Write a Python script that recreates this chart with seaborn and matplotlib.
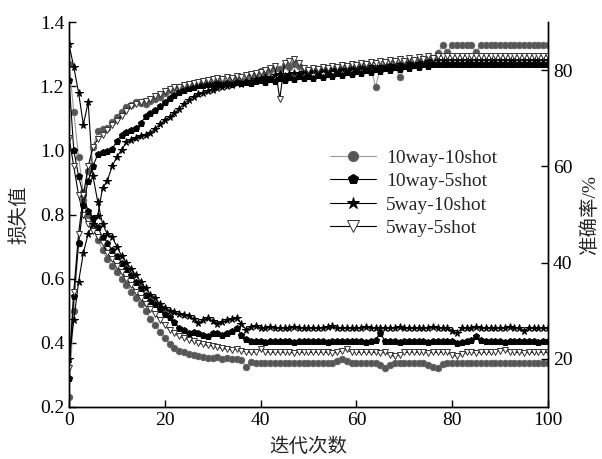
"""
Loss / accuracy curves for four few-shot settings (dual y axis).
Run: python plot.py  -> out.png
"""

import matplotlib

matplotlib.use("Agg")
import matplotlib.pyplot as plt
import numpy as np
import seaborn as sns

# ---- data ----------------------------------------------------------------
iters = np.arange(0, 101)
labels = ["10way-10shot", "10way-5shot", "5way-10shot", "5way-5shot"]

# loss (left axis)
loss_10w10s = [
    1.27, 1.12, 0.98, 0.87, 0.80, 0.76, 0.72, 0.69, 0.66, 0.64,
    0.62, 0.60, 0.58, 0.56, 0.54, 0.52, 0.50, 0.475, 0.455, 0.435,
    0.415, 0.395, 0.385, 0.375, 0.37, 0.366, 0.362, 0.358, 0.356, 0.353,
    0.352, 0.355, 0.35, 0.352, 0.349, 0.35, 0.345, 0.325, 0.34, 0.338,
    0.337, 0.338, 0.337, 0.336, 0.337, 0.338, 0.337, 0.337, 0.336, 0.337,
    0.337, 0.338, 0.337, 0.336, 0.337, 0.338, 0.342, 0.35, 0.342, 0.337,
    0.337, 0.336, 0.337, 0.338, 0.337, 0.33, 0.322, 0.332, 0.337, 0.338,
    0.337, 0.336, 0.337, 0.338, 0.337, 0.332, 0.325, 0.322, 0.335, 0.337,
    0.337, 0.338, 0.337, 0.336, 0.337, 0.338, 0.337, 0.337, 0.336, 0.337,
    0.337, 0.338, 0.337, 0.336, 0.337, 0.338, 0.337, 0.337, 0.336, 0.337,
    0.337,
]
loss_10w5s = [
    1.22, 1.00, 0.92, 0.86, 0.81, 0.79, 0.76, 0.73, 0.71, 0.69,
    0.67, 0.65, 0.63, 0.61, 0.59, 0.57, 0.55, 0.53, 0.52, 0.505,
    0.49, 0.48, 0.465, 0.447, 0.44, 0.43, 0.435, 0.43, 0.425, 0.42,
    0.43, 0.432, 0.425, 0.43, 0.438, 0.447, 0.425, 0.412, 0.406, 0.405,
    0.405, 0.404, 0.405, 0.405, 0.406, 0.405, 0.405, 0.404, 0.405, 0.405,
    0.405, 0.405, 0.406, 0.405, 0.404, 0.405, 0.405, 0.405, 0.406, 0.405,
    0.405, 0.405, 0.404, 0.405, 0.41, 0.43, 0.405, 0.405, 0.405, 0.404,
    0.405, 0.405, 0.406, 0.405, 0.405, 0.404, 0.405, 0.405, 0.405, 0.406,
    0.405, 0.398, 0.402, 0.405, 0.41, 0.42, 0.408, 0.405, 0.405, 0.405,
    0.405, 0.404, 0.405, 0.405, 0.406, 0.405, 0.405, 0.405, 0.404, 0.405,
    0.405,
]
loss_5w10s = [
    1.33, 1.26, 1.18, 1.08, 1.15, 0.92, 0.84, 0.77, 0.74, 0.73,
    0.70, 0.67, 0.65, 0.63, 0.61, 0.59, 0.57, 0.55, 0.54, 0.52,
    0.51, 0.50, 0.495, 0.49, 0.487, 0.484, 0.475, 0.462, 0.47, 0.478,
    0.468, 0.46, 0.465, 0.47, 0.473, 0.476, 0.46, 0.44, 0.45, 0.453,
    0.447, 0.447, 0.448, 0.447, 0.446, 0.447, 0.447, 0.448, 0.447, 0.447,
    0.447, 0.446, 0.447, 0.447, 0.448, 0.452, 0.447, 0.447, 0.446, 0.447,
    0.447, 0.447, 0.448, 0.447, 0.447, 0.446, 0.447, 0.447, 0.447, 0.448,
    0.447, 0.447, 0.446, 0.447, 0.447, 0.447, 0.448, 0.447, 0.447, 0.446,
    0.438, 0.43, 0.446, 0.447, 0.447, 0.448, 0.447, 0.447, 0.446, 0.447,
    0.447, 0.447, 0.448, 0.447, 0.446, 0.438, 0.446, 0.447, 0.447, 0.447,
    0.447,
]
loss_5w5s = [
    1.04, 0.95, 0.86, 0.80, 0.77, 0.75, 0.73, 0.71, 0.68, 0.66,
    0.64, 0.62, 0.60, 0.58, 0.56, 0.54, 0.52, 0.505, 0.49, 0.47,
    0.455, 0.44, 0.43, 0.42, 0.415, 0.41, 0.405, 0.40, 0.395, 0.392,
    0.39, 0.386, 0.383, 0.38, 0.378, 0.38, 0.376, 0.372, 0.37, 0.372,
    0.38, 0.372, 0.37, 0.37, 0.371, 0.37, 0.37, 0.369, 0.37, 0.37,
    0.37, 0.37, 0.371, 0.37, 0.37, 0.369, 0.37, 0.375, 0.38, 0.37,
    0.37, 0.37, 0.371, 0.37, 0.37, 0.369, 0.37, 0.362, 0.358, 0.362,
    0.37, 0.37, 0.371, 0.37, 0.37, 0.369, 0.37, 0.37, 0.37, 0.37,
    0.362, 0.358, 0.365, 0.37, 0.37, 0.369, 0.37, 0.37, 0.371, 0.372,
    0.376, 0.378, 0.372, 0.37, 0.37, 0.369, 0.37, 0.37, 0.371, 0.37,
    0.37,
]

# accuracy in % (right axis)
acc_10w10s = [
    12, 30, 44, 53, 59, 64, 67.3, 67.8, 68, 69.2,
    70.2, 71.2, 72.3, 72.8, 73.4, 73.2, 73.0, 73.6, 74.0, 74.4,
    75.2, 75.8, 76.2, 76.4, 76.5, 76.9, 77.1, 77.3, 77.5, 77.2,
    77.6, 77.3, 77.8, 77.4, 77.9, 78.2, 77.8, 78.0, 79.0, 79.3,
    79.8, 79.4, 80.0, 80.4, 80.2, 81.0, 80.6, 81.2, 80.8, 80.2,
    79.6, 80.3, 79.8, 80.4, 80.0, 80.6, 80.2, 80.8, 80.4, 81.0,
    80.6, 80.9, 81.3, 80.7, 76.5, 80.5, 81.1, 80.8, 81.5, 78.5,
    81.2, 81.6, 81.0, 81.8, 82.4, 81.6, 82.6, 83.5, 85.3, 83.8,
    85.3, 85.3, 85.3, 85.3, 85.3, 83.7, 85.3, 85.3, 85.3, 85.3,
    85.3, 85.3, 85.3, 85.3, 85.3, 85.3, 85.3, 85.3, 85.3, 85.3,
    85.3,
]
acc_10w5s = [
    16, 33, 44, 52, 57, 60, 62.5, 63.0, 63.3, 63.6,
    65.2, 66.6, 67.2, 67.6, 68.0, 69.0, 70.4, 71.0, 71.8, 72.5,
    73.4, 74.3, 74.9, 75.4, 75.8, 76.3, 76.6, 76.9, 77.0, 77.2,
    77.0, 77.3, 77.1, 77.4, 77.2, 77.5, 77.3, 77.6, 77.4, 77.8,
    78.0, 77.6, 78.2, 77.8, 78.4, 78.0, 78.6, 78.2, 78.7, 78.3,
    78.8, 78.4, 79.0, 78.6, 79.2, 78.8, 79.4, 79.0, 79.6, 79.2,
    79.8, 79.4, 80.0, 79.6, 80.2, 79.8, 80.4, 80.0, 80.6, 80.2,
    80.8, 80.4, 81.0, 80.6, 81.2, 80.8, 81.2, 81.3, 81.3, 81.3,
    81.3, 81.3, 81.3, 81.3, 81.3, 81.3, 81.3, 81.3, 81.3, 81.3,
    81.3, 81.3, 81.3, 81.3, 81.3, 81.3, 81.3, 81.3, 81.3, 81.3,
    81.3,
]
acc_5w10s = [
    20, 28, 36, 42, 46, 48, 49.7, 55.5, 57.0, 60.0,
    62.0, 63.5, 65.0, 65.5, 66.0, 66.3, 66.6, 67.0, 67.8, 68.8,
    69.6, 70.3, 71.0, 72.0, 73.0, 73.8, 74.5, 75.0, 75.3, 75.6,
    75.9, 76.2, 76.5, 76.8, 77.0, 77.3, 77.1, 77.5, 77.8, 78.1,
    78.3, 78.6, 78.4, 78.9, 79.1, 78.8, 79.3, 79.5, 79.2, 79.7,
    79.5, 79.9, 79.6, 80.0, 79.7, 80.2, 79.9, 80.3, 80.0, 80.5,
    80.2, 80.6, 80.3, 80.8, 80.4, 80.9, 80.6, 81.0, 80.7, 81.2,
    80.9, 81.4, 81.1, 81.5, 81.7, 81.9, 82.1, 82.2, 82.2, 82.2,
    82.2, 82.2, 82.2, 82.2, 82.2, 82.2, 82.2, 82.2, 82.2, 82.2,
    82.2, 82.2, 82.2, 82.2, 82.2, 82.2, 82.2, 82.2, 82.2, 82.2,
    82.2,
]
acc_5w5s = [
    18, 34, 46, 54, 60, 64, 65.7, 66.5, 67.5, 68.5,
    69.5, 70.5, 71.5, 72.5, 73.0, 73.3, 73.6, 74.0, 74.6, 75.1,
    75.6, 76.0, 76.4, 76.6, 76.9, 77.2, 77.4, 77.6, 77.8, 78.0,
    78.1, 78.3, 78.2, 78.5, 78.4, 78.7, 78.6, 78.9, 79.1, 79.4,
    79.7, 80.0, 80.4, 80.8, 74.0, 81.5, 82.0, 82.3, 81.5, 80.5,
    80.0, 80.5, 80.2, 80.7, 80.4, 80.9, 80.6, 81.1, 80.8, 81.3,
    81.0, 81.5, 81.2, 81.7, 81.4, 81.9, 81.6, 82.1, 81.8, 82.3,
    82.0, 82.5, 82.2, 82.7, 82.4, 82.9, 82.6, 83.0, 83.0, 83.0,
    83.0, 83.0, 83.0, 83.0, 83.0, 83.0, 83.0, 83.0, 83.0, 83.0,
    83.0, 83.0, 83.0, 83.0, 83.0, 83.0, 83.0, 83.0, 83.0, 83.0,
    83.0,
]

loss_series = [loss_10w10s, loss_10w5s, loss_5w10s, loss_5w5s]
acc_series = [acc_10w10s, acc_10w5s, acc_5w10s, acc_5w5s]

# kieu ve cho tung setting (line color, marker, face, edge, size)
STYLES = [
    dict(color="#9a9a9a", marker="o", markerfacecolor="#555555",
         markeredgecolor="#666666", markersize=4.6),
    dict(color="black", marker="p", markerfacecolor="black",
         markeredgecolor="black", markersize=4.8),
    dict(color="black", marker="*", markerfacecolor="black",
         markeredgecolor="black", markersize=5.5),
    dict(color="black", marker="v", markerfacecolor="white",
         markeredgecolor="#333333", markersize=5.0, markeredgewidth=0.7),
]

sns.set_theme(style="ticks")
plt.rcParams["font.family"] = ["Liberation Serif", "Noto Sans CJK SC"]
plt.rcParams["axes.unicode_minus"] = False


def style_axis(ax):
    ax.tick_params(direction="in", length=5, width=1, labelsize=14,
                   colors="black")
    for side in ("left", "right", "bottom"):
        ax.spines[side].set_color("black")
        ax.spines[side].set_linewidth(1.0)
    ax.spines["top"].set_visible(False)


def main():
    fig = plt.figure(figsize=(6.02, 4.59), dpi=100)
    ax = fig.add_axes([0.1146, 0.1133, 0.7957, 0.8387])
    ax2 = ax.twinx()

    for vals, lab, st in zip(loss_series, labels, STYLES):
        sns.lineplot(x=iters, y=vals, ax=ax, linewidth=0.8, label=lab,
                     legend=False, **st)
    for vals, lab, st in zip(acc_series, labels, STYLES):
        sns.lineplot(x=iters, y=vals, ax=ax2, linewidth=0.8,
                     legend=False, **st)

    ax.set_xlim(0, 100)
    ax.set_ylim(0.2, 1.4)
    ax.set_xticks([0, 20, 40, 60, 80, 100])
    ax.set_yticks([0.2, 0.4, 0.6, 0.8, 1.0, 1.2, 1.4])
    ax.set_yticklabels(["0.2", "0.4", "0.6", "0.8", "1.0", "1.2", "1.4"])
    ax2.set_ylim(10, 90)
    ax2.set_yticks([20, 40, 60, 80])

    style_axis(ax)
    style_axis(ax2)
    ax.grid(False)
    ax2.grid(False)

    ax.set_xlabel("迭代次数", fontsize=14, labelpad=6)
    ax.set_ylabel("损失值", fontsize=14, labelpad=8)
    ax2.set_ylabel("准确率/%", fontsize=14, labelpad=6)

    handles = ax.get_lines()[:4]
    ax.legend(handles, labels, loc="upper left",
              bbox_to_anchor=(0.525, 0.705), bbox_transform=fig.transFigure,
              frameon=False, fontsize=14, handlelength=2.4,
              handletextpad=0.5, labelspacing=0.3, borderpad=0.2,
              markerscale=1.6)

    fig.savefig("out.png", dpi=100)
    plt.close(fig)


if __name__ == "__main__":
    main()
